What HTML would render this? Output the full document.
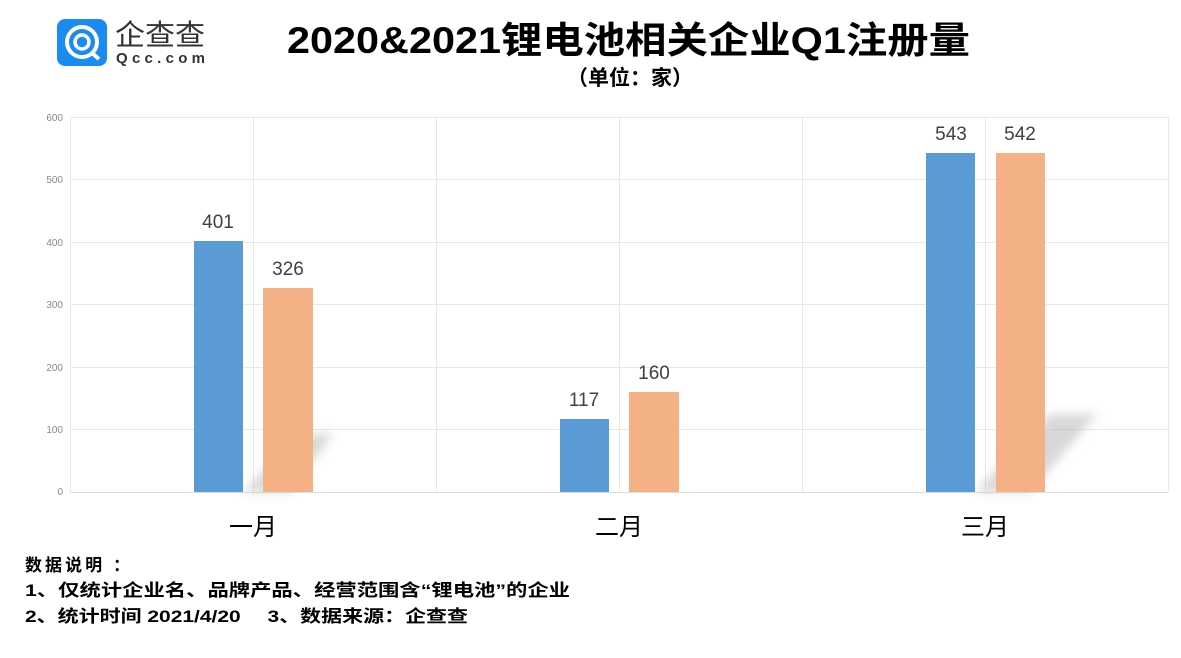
<!DOCTYPE html>
<html><head><meta charset="utf-8"><style>
body{margin:0;background:#fff;}
svg text{font-family:"Liberation Sans","Noto Sans CJK SC",sans-serif;}
</style></head><body>
<svg width="1181" height="653" viewBox="0 0 1181 653" xmlns="http://www.w3.org/2000/svg">
<defs><filter id="b" x="-50%" y="-50%" width="200%" height="200%"><feGaussianBlur stdDeviation="5"/></filter></defs>
<rect width="1181" height="653" fill="#fff"/>
<!-- logo -->
<rect x="57" y="19" width="50" height="47" rx="8" fill="#1a8cf0"/>
<circle cx="82" cy="42" r="15" fill="none" stroke="#fff" stroke-width="4"/>
<circle cx="82" cy="42" r="7" fill="none" stroke="#fff" stroke-width="3.5"/>
<line x1="92" y1="53" x2="99" y2="59" stroke="#fff" stroke-width="4"/>
<text x="115" y="45" font-size="29" fill="#333" textLength="90" lengthAdjust="spacingAndGlyphs">企查查</text>
<text x="116" y="63" font-size="15" fill="#333" font-weight="bold" textLength="89" lengthAdjust="spacing">Qcc.com</text>
<!-- title -->
<text x="287" y="53" font-size="37" font-weight="bold" fill="#000" textLength="683" lengthAdjust="spacingAndGlyphs">2020&amp;2021锂电池相关企业Q1注册量</text>
<text x="630" y="85" font-size="21" font-weight="bold" text-anchor="middle" fill="#000">（单位：家）</text>
<!-- grid -->
<g stroke="#e8e8e8" stroke-width="1">
<line x1="70" y1="117.5" x2="1168" y2="117.5"/>
<line x1="70" y1="179.5" x2="1168" y2="179.5"/>
<line x1="70" y1="242.5" x2="1168" y2="242.5"/>
<line x1="70" y1="304.5" x2="1168" y2="304.5"/>
<line x1="70" y1="367.5" x2="1168" y2="367.5"/>
<line x1="70" y1="429.5" x2="1168" y2="429.5"/>
<line x1="70.5" y1="117" x2="70.5" y2="492"/>
<line x1="253.5" y1="117" x2="253.5" y2="492"/>
<line x1="436.5" y1="117" x2="436.5" y2="492"/>
<line x1="619.5" y1="117" x2="619.5" y2="492"/>
<line x1="802.5" y1="117" x2="802.5" y2="492"/>
<line x1="985.5" y1="117" x2="985.5" y2="492"/>
<line x1="1168.5" y1="117" x2="1168.5" y2="492"/>
</g>
<line x1="70" y1="492.5" x2="1168" y2="492.5" stroke="#ddd"/>
<g font-size="10" fill="#888" text-anchor="end">
<text x="63" y="121">600</text><text x="63" y="183">500</text><text x="63" y="246">400</text>
<text x="63" y="308">300</text><text x="63" y="371">200</text><text x="63" y="433">100</text><text x="63" y="495">0</text>
</g>
<!-- shadows -->
<g fill="#b8b8b8" opacity="0.55" filter="url(#b)">
<polygon points="243,492 290,492 333,434 300,434"/>
<polygon points="975,492 1030,492 1097,414 1050,414"/>
</g>
<!-- bars -->
<rect x="194" y="241" width="49" height="251" fill="#5b9bd5"/>
<rect x="263" y="288" width="50" height="204" fill="#f4b183"/>
<rect x="560" y="419" width="49" height="73" fill="#5b9bd5"/>
<rect x="629" y="392" width="50" height="100" fill="#f4b183"/>
<rect x="926" y="153" width="49" height="339" fill="#5b9bd5"/>
<rect x="996" y="153" width="49" height="339" fill="#f4b183"/>
<g font-size="19" fill="#404040" text-anchor="middle">
<text x="218" y="228">401</text><text x="288" y="275">326</text>
<text x="584" y="406">117</text><text x="654" y="379">160</text>
<text x="951" y="140">543</text><text x="1020" y="140">542</text>
</g>
<g font-size="24" fill="#000" text-anchor="middle">
<text x="253" y="535">一月</text><text x="619" y="535">二月</text><text x="985" y="535">三月</text>
</g>
<g font-size="17" font-weight="bold" fill="#000">
<text x="25" y="571" textLength="105" lengthAdjust="spacing">数据说明 ：</text>
<text x="25" y="596" textLength="545" lengthAdjust="spacingAndGlyphs">1、仅统计企业名、品牌产品、经营范围含“锂电池”的企业</text>
<text x="25" y="622" textLength="443" lengthAdjust="spacingAndGlyphs">2、统计时间 2021/4/20　 3、数据来源：企查查</text>
</g>
</svg>
</body></html>
